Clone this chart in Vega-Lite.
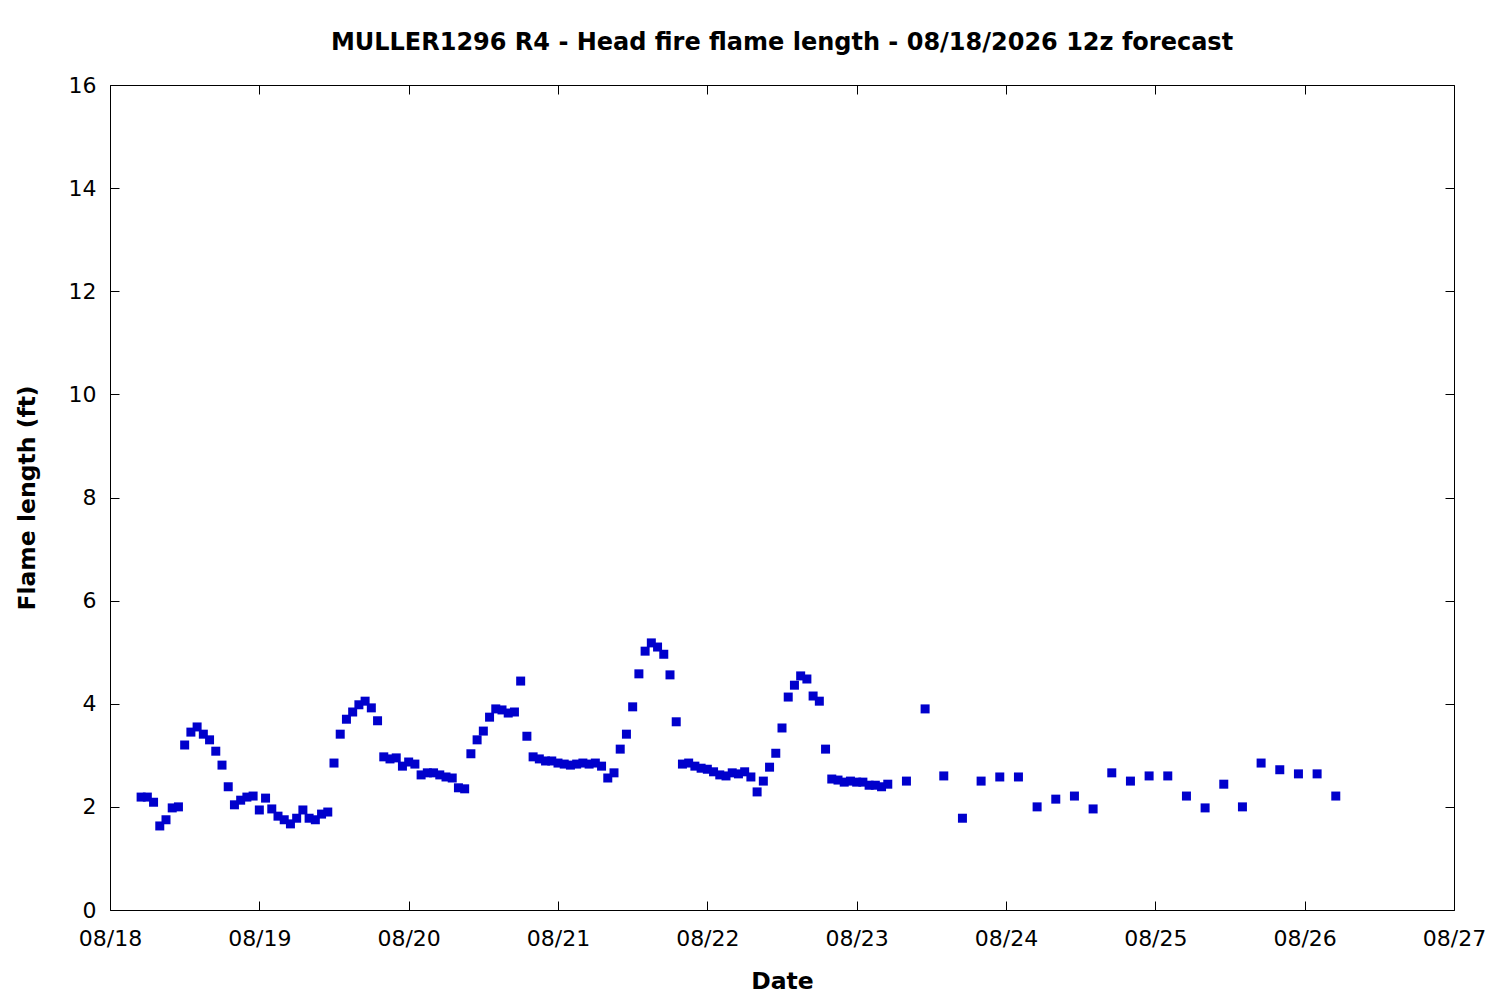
{
  "$schema": "https://vega.github.io/schema/vega-lite/v6.json",
  "description": "Head fire flame length forecast, hourly then 3-hourly.",
  "width": 1344,
  "height": 825,
  "autosize": "none",
  "padding": {"left": 110, "top": 85, "right": 46, "bottom": 90},
  "background": "white",
  "config": {
    "font": "DejaVu Sans",
    "view": {"stroke": "black", "strokeWidth": 1},
    "axis": {
      "grid": false,
      "domain": false,
      "tickSize": -9,
      "tickColor": "black",
      "tickWidth": 1,
      "labelFont": "DejaVu Sans",
      "labelFontSize": 22,
      "labelColor": "black",
      "titleFont": "DejaVu Sans",
      "titleFontSize": 23.5,
      "titleFontWeight": "bold",
      "titleColor": "black"
    }
  },
  "title": {
    "text": "MULLER1296 R4 - Head fire flame length - 08/18/2026 12z forecast",
    "font": "DejaVu Sans",
    "fontSize": 24,
    "fontWeight": "bold",
    "color": "black",
    "anchor": "middle",
    "offset": 19
  },
  "data": {
    "values": [
      {"time": "2026-08-18 05:00", "flame": 2.19},
      {"time": "2026-08-18 06:00", "flame": 2.19},
      {"time": "2026-08-18 07:00", "flame": 2.09},
      {"time": "2026-08-18 08:00", "flame": 1.63},
      {"time": "2026-08-18 09:00", "flame": 1.75},
      {"time": "2026-08-18 10:00", "flame": 1.98},
      {"time": "2026-08-18 11:00", "flame": 2.0},
      {"time": "2026-08-18 12:00", "flame": 3.2},
      {"time": "2026-08-18 13:00", "flame": 3.45},
      {"time": "2026-08-18 14:00", "flame": 3.55},
      {"time": "2026-08-18 15:00", "flame": 3.41},
      {"time": "2026-08-18 16:00", "flame": 3.3},
      {"time": "2026-08-18 17:00", "flame": 3.08},
      {"time": "2026-08-18 18:00", "flame": 2.81},
      {"time": "2026-08-18 19:00", "flame": 2.39},
      {"time": "2026-08-18 20:00", "flame": 2.04},
      {"time": "2026-08-18 21:00", "flame": 2.13},
      {"time": "2026-08-18 22:00", "flame": 2.19},
      {"time": "2026-08-18 23:00", "flame": 2.21},
      {"time": "2026-08-19 00:00", "flame": 1.94},
      {"time": "2026-08-19 01:00", "flame": 2.17},
      {"time": "2026-08-19 02:00", "flame": 1.96},
      {"time": "2026-08-19 03:00", "flame": 1.82},
      {"time": "2026-08-19 04:00", "flame": 1.75},
      {"time": "2026-08-19 05:00", "flame": 1.67},
      {"time": "2026-08-19 06:00", "flame": 1.78},
      {"time": "2026-08-19 07:00", "flame": 1.94},
      {"time": "2026-08-19 08:00", "flame": 1.78},
      {"time": "2026-08-19 09:00", "flame": 1.75},
      {"time": "2026-08-19 10:00", "flame": 1.86},
      {"time": "2026-08-19 11:00", "flame": 1.9},
      {"time": "2026-08-19 12:00", "flame": 2.85},
      {"time": "2026-08-19 13:00", "flame": 3.41},
      {"time": "2026-08-19 14:00", "flame": 3.7},
      {"time": "2026-08-19 15:00", "flame": 3.84},
      {"time": "2026-08-19 16:00", "flame": 3.98},
      {"time": "2026-08-19 17:00", "flame": 4.05},
      {"time": "2026-08-19 18:00", "flame": 3.92},
      {"time": "2026-08-19 19:00", "flame": 3.67},
      {"time": "2026-08-19 20:00", "flame": 2.97},
      {"time": "2026-08-19 21:00", "flame": 2.93},
      {"time": "2026-08-19 22:00", "flame": 2.95},
      {"time": "2026-08-19 23:00", "flame": 2.79},
      {"time": "2026-08-20 00:00", "flame": 2.87},
      {"time": "2026-08-20 01:00", "flame": 2.83},
      {"time": "2026-08-20 02:00", "flame": 2.62},
      {"time": "2026-08-20 03:00", "flame": 2.66},
      {"time": "2026-08-20 04:00", "flame": 2.66},
      {"time": "2026-08-20 05:00", "flame": 2.62},
      {"time": "2026-08-20 06:00", "flame": 2.58},
      {"time": "2026-08-20 07:00", "flame": 2.56},
      {"time": "2026-08-20 08:00", "flame": 2.37},
      {"time": "2026-08-20 09:00", "flame": 2.35},
      {"time": "2026-08-20 10:00", "flame": 3.03},
      {"time": "2026-08-20 11:00", "flame": 3.3},
      {"time": "2026-08-20 12:00", "flame": 3.47},
      {"time": "2026-08-20 13:00", "flame": 3.74},
      {"time": "2026-08-20 14:00", "flame": 3.9},
      {"time": "2026-08-20 15:00", "flame": 3.88},
      {"time": "2026-08-20 16:00", "flame": 3.82},
      {"time": "2026-08-20 17:00", "flame": 3.84},
      {"time": "2026-08-20 18:00", "flame": 4.44},
      {"time": "2026-08-20 19:00", "flame": 3.37},
      {"time": "2026-08-20 20:00", "flame": 2.97},
      {"time": "2026-08-20 21:00", "flame": 2.93},
      {"time": "2026-08-20 22:00", "flame": 2.89},
      {"time": "2026-08-20 23:00", "flame": 2.89},
      {"time": "2026-08-21 00:00", "flame": 2.85},
      {"time": "2026-08-21 01:00", "flame": 2.83},
      {"time": "2026-08-21 02:00", "flame": 2.81},
      {"time": "2026-08-21 03:00", "flame": 2.83},
      {"time": "2026-08-21 04:00", "flame": 2.85},
      {"time": "2026-08-21 05:00", "flame": 2.83},
      {"time": "2026-08-21 06:00", "flame": 2.85},
      {"time": "2026-08-21 07:00", "flame": 2.79},
      {"time": "2026-08-21 08:00", "flame": 2.56},
      {"time": "2026-08-21 09:00", "flame": 2.66},
      {"time": "2026-08-21 10:00", "flame": 3.12},
      {"time": "2026-08-21 11:00", "flame": 3.41},
      {"time": "2026-08-21 12:00", "flame": 3.94},
      {"time": "2026-08-21 13:00", "flame": 4.58},
      {"time": "2026-08-21 14:00", "flame": 5.02},
      {"time": "2026-08-21 15:00", "flame": 5.18},
      {"time": "2026-08-21 16:00", "flame": 5.1},
      {"time": "2026-08-21 17:00", "flame": 4.96},
      {"time": "2026-08-21 18:00", "flame": 4.56},
      {"time": "2026-08-21 19:00", "flame": 3.65},
      {"time": "2026-08-21 20:00", "flame": 2.83},
      {"time": "2026-08-21 21:00", "flame": 2.85},
      {"time": "2026-08-21 22:00", "flame": 2.79},
      {"time": "2026-08-21 23:00", "flame": 2.75},
      {"time": "2026-08-22 00:00", "flame": 2.73},
      {"time": "2026-08-22 01:00", "flame": 2.68},
      {"time": "2026-08-22 02:00", "flame": 2.62},
      {"time": "2026-08-22 03:00", "flame": 2.6},
      {"time": "2026-08-22 04:00", "flame": 2.66},
      {"time": "2026-08-22 05:00", "flame": 2.64},
      {"time": "2026-08-22 06:00", "flame": 2.68},
      {"time": "2026-08-22 07:00", "flame": 2.58},
      {"time": "2026-08-22 08:00", "flame": 2.29},
      {"time": "2026-08-22 09:00", "flame": 2.5},
      {"time": "2026-08-22 10:00", "flame": 2.77},
      {"time": "2026-08-22 11:00", "flame": 3.04},
      {"time": "2026-08-22 12:00", "flame": 3.53},
      {"time": "2026-08-22 13:00", "flame": 4.13},
      {"time": "2026-08-22 14:00", "flame": 4.36},
      {"time": "2026-08-22 15:00", "flame": 4.54},
      {"time": "2026-08-22 16:00", "flame": 4.48},
      {"time": "2026-08-22 17:00", "flame": 4.15},
      {"time": "2026-08-22 18:00", "flame": 4.05},
      {"time": "2026-08-22 19:00", "flame": 3.12},
      {"time": "2026-08-22 20:00", "flame": 2.54},
      {"time": "2026-08-22 21:00", "flame": 2.52},
      {"time": "2026-08-22 22:00", "flame": 2.48},
      {"time": "2026-08-22 23:00", "flame": 2.5},
      {"time": "2026-08-23 00:00", "flame": 2.48},
      {"time": "2026-08-23 01:00", "flame": 2.48},
      {"time": "2026-08-23 02:00", "flame": 2.42},
      {"time": "2026-08-23 03:00", "flame": 2.42},
      {"time": "2026-08-23 04:00", "flame": 2.39},
      {"time": "2026-08-23 05:00", "flame": 2.44},
      {"time": "2026-08-23 08:00", "flame": 2.5},
      {"time": "2026-08-23 11:00", "flame": 3.9},
      {"time": "2026-08-23 14:00", "flame": 2.6},
      {"time": "2026-08-23 17:00", "flame": 1.78},
      {"time": "2026-08-23 20:00", "flame": 2.5},
      {"time": "2026-08-23 23:00", "flame": 2.58},
      {"time": "2026-08-24 02:00", "flame": 2.58},
      {"time": "2026-08-24 05:00", "flame": 2.0},
      {"time": "2026-08-24 08:00", "flame": 2.15},
      {"time": "2026-08-24 11:00", "flame": 2.21},
      {"time": "2026-08-24 14:00", "flame": 1.96},
      {"time": "2026-08-24 17:00", "flame": 2.66},
      {"time": "2026-08-24 20:00", "flame": 2.5},
      {"time": "2026-08-24 23:00", "flame": 2.6},
      {"time": "2026-08-25 02:00", "flame": 2.6},
      {"time": "2026-08-25 05:00", "flame": 2.21},
      {"time": "2026-08-25 08:00", "flame": 1.98},
      {"time": "2026-08-25 11:00", "flame": 2.44},
      {"time": "2026-08-25 14:00", "flame": 2.0},
      {"time": "2026-08-25 17:00", "flame": 2.85},
      {"time": "2026-08-25 20:00", "flame": 2.72},
      {"time": "2026-08-25 23:00", "flame": 2.64},
      {"time": "2026-08-26 02:00", "flame": 2.64},
      {"time": "2026-08-26 05:00", "flame": 2.21}
    ]
  },
  "layer": [
    {
      "mark": {"type": "point", "shape": "square", "filled": true, "opacity": 1, "size": 81, "color": "#0000cc"},
      "encoding": {
        "x": {
          "field": "time", "type": "temporal", "title": "Date",
          "scale": {"domain": [{"year": 2026, "month": 8, "date": 18}, {"year": 2026, "month": 8, "date": 27}]},
          "axis": {"orient": "bottom", "format": "%m/%d", "tickCount": {"interval": "day", "step": 1}, "labelPadding": 27, "titlePadding": 20, "labelFlush": false}
        },
        "y": {
          "field": "flame", "type": "quantitative", "title": "Flame length (ft)",
          "scale": {"domain": [0, 16], "nice": false},
          "axis": {"orient": "left", "values": [0, 2, 4, 6, 8, 10, 12, 14, 16], "labelPadding": 23, "titlePadding": 29}
        }
      }
    },
    {
      "mark": {"type": "point", "opacity": 0},
      "encoding": {
        "x": {
          "field": "time", "type": "temporal",
          "axis": {"orient": "top", "labels": false, "title": null, "tickCount": {"interval": "day", "step": 1}}
        },
        "y": {
          "field": "flame", "type": "quantitative",
          "axis": {"orient": "right", "labels": false, "title": null, "values": [0, 2, 4, 6, 8, 10, 12, 14, 16]}
        }
      }
    }
  ],
  "resolve": {"axis": {"x": "independent", "y": "independent"}}
}
